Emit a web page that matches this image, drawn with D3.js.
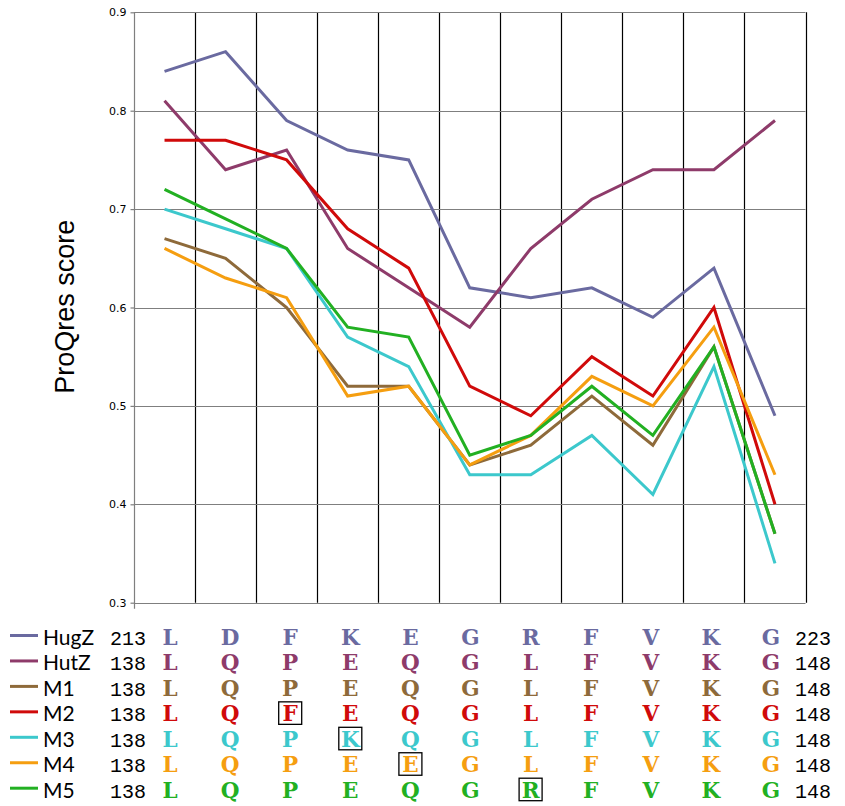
<!DOCTYPE html>
<html>
<head>
<meta charset="utf-8">
<script src="https://cdn.jsdelivr.net/npm/d3@7"></script>
<style>
html,body{margin:0;padding:0;background:#fff;}
svg{display:block;}
</style>
</head>
<body>
<svg id="chart" width="845" height="806"></svg>
<script>
// ---- data ----
const positions = ["0","1","2","3","4","5","6","7","8","9","10"];
const seriesNames = ["HugZ","HutZ","M1","M2","M3","M4","M5"];
const seriesColors = ["#6a6aa0","#8e3b6a","#8e6a3a","#d00a0a","#3cc8cc","#f59e10","#22b022"];
const HugZ = [0.84,0.86,0.79,0.76,0.75,0.62,0.61,0.62,0.59,0.64,0.49];
const HutZ = [0.81,0.74,0.76,0.66,0.62,0.58,0.66,0.71,0.74,0.74,0.79];
const M1   = [0.67,0.65,0.60,0.52,0.52,0.44,0.46,0.51,0.46,0.56,0.37];
const M2   = [0.77,0.77,0.75,0.68,0.64,0.52,0.49,0.55,0.51,0.60,0.40];
const M3   = [0.70,0.68,0.66,0.57,0.54,0.43,0.43,0.47,0.41,0.54,0.34];
const M4   = [0.66,0.63,0.61,0.51,0.52,0.44,0.47,0.53,0.50,0.58,0.43];
const M5   = [0.72,0.69,0.66,0.58,0.57,0.45,0.47,0.52,0.47,0.56,0.37];
const seriesValues = [HugZ,HutZ,M1,M2,M3,M4,M5];
const yTicks = [0.3,0.4,0.5,0.6,0.7,0.8,0.9];
const yTitle = "ProQres score";
// sequence table
const seqStart = ["213","138","138","138","138","138","138"];
const seqEnd   = ["223","148","148","148","148","148","148"];
const seqHugZ = ["L","D","F","K","E","G","R","F","V","K","G"];
const seqHutZ = ["L","Q","P","E","Q","G","L","F","V","K","G"];
const seqM1   = ["L","Q","P","E","Q","G","L","F","V","K","G"];
const seqM2   = ["L","Q","F","E","Q","G","L","F","V","K","G"];
const seqM3   = ["L","Q","P","K","Q","G","L","F","V","K","G"];
const seqM4   = ["L","Q","P","E","E","G","L","F","V","K","G"];
const seqM5   = ["L","Q","P","E","Q","G","R","F","V","K","G"];
const sequences = [seqHugZ,seqHutZ,seqM1,seqM2,seqM3,seqM4,seqM5];
// highlighted mutations: [row, column]
const mutations = [[3,2],[4,3],[5,4],[6,6]];

// ---- layout ----
const svg = d3.select("#chart");
const pLeft = 134, pRight = 805.5, pTop = 12.3, pBottom = 602.7;

const x = d3.scaleBand().domain(positions).range([pLeft, pRight]).paddingInner(0).paddingOuter(0);
const y = d3.scaleLinear().domain([0.3, 0.9]).range([pBottom, pTop]);

// vertical black separators
const g = svg.append("g");
g.selectAll("line.sep").data(positions.slice(1)).enter().append("line")
  .attr("class","sep")
  .attr("x1", d => Math.round(x(d)) + 0.5).attr("x2", d => Math.round(x(d)) + 0.5)
  .attr("y1", pTop).attr("y2", pBottom)
  .attr("stroke", "#000").attr("stroke-width", 1.2);
g.append("line")
  .attr("x1", Math.round(pRight) + 0.5).attr("x2", Math.round(pRight) + 0.5)
  .attr("y1", pTop).attr("y2", pBottom)
  .attr("stroke", "#000").attr("stroke-width", 1.2);

// horizontal gridlines
g.selectAll("line.grid").data(yTicks).enter().append("line")
  .attr("class","grid")
  .attr("x1", pLeft).attr("x2", pRight)
  .attr("y1", d => Math.round(y(d)) + 0.5).attr("y2", d => Math.round(y(d)) + 0.5)
  .attr("stroke", "#7f7f7f").attr("stroke-width", 1.2);

// y axis
const yAxis = d3.axisLeft(y).tickValues(yTicks).tickFormat(d3.format(".1f")).tickSize(4).tickPadding(4);
const ya = svg.append("g").attr("transform", `translate(${pLeft + 0.5},0)`).call(yAxis);
ya.selectAll(".tick line").attr("stroke", "#7f7f7f").attr("stroke-width", 1.2);
ya.selectAll(".tick text").attr("font-family", "DejaVu Sans, sans-serif").attr("font-size", 11).attr("fill", "#000");
ya.select(".domain").attr("stroke", "#7f7f7f").attr("stroke-width", 1.2)
  .attr("d", `M0,${pTop}V${pBottom + 6}`);

// y title
svg.append("text")
  .attr("transform", `translate(74,306.7) rotate(-90)`)
  .attr("text-anchor", "middle")
  .attr("font-family", "Liberation Sans, Arial, sans-serif")
  .attr("font-size", 27)
  .attr("fill", "#000")
  .text(yTitle);

// lines
const line = d3.line()
  .x((d, i) => x(positions[i]) + x.bandwidth() / 2)
  .y(d => y(d));
svg.append("g").selectAll("path").data(seriesValues).enter().append("path")
  .attr("d", d => line(d))
  .attr("fill", "none")
  .attr("stroke", (d, i) => seriesColors[i])
  .attr("stroke-width", 3)
  .attr("stroke-linejoin", "miter");

// ---- sequence table ----
const xs = d3.scalePoint().domain(positions).range([170, 771]);
const rowY = d3.scalePoint().domain(seriesNames).range([645, 797.7]);

const tbl = svg.append("g");
seriesNames.forEach((name, r) => {
  const by = rowY(name);
  tbl.append("line")
    .attr("x1", 10).attr("x2", 38)
    .attr("y1", by - 9.5).attr("y2", by - 9.5)
    .attr("stroke", seriesColors[r]).attr("stroke-width", 3);
  tbl.append("text")
    .attr("x", 43).attr("y", by)
    .attr("font-family", "Lato, Carlito, Calibri, sans-serif")
    .attr("font-size", 21)
    .attr("fill", "#000")
    .text(name);
  tbl.append("text")
    .attr("x", 110).attr("y", by)
    .attr("font-family", "Liberation Mono, Courier New, monospace")
    .attr("font-size", 20)
    .attr("fill", "#000")
    .text(seqStart[r]);
  tbl.append("text")
    .attr("x", 795).attr("y", by)
    .attr("font-family", "Liberation Mono, Courier New, monospace")
    .attr("font-size", 20)
    .attr("fill", "#000")
    .text(seqEnd[r]);
  tbl.selectAll(null).data(sequences[r]).enter().append("text")
    .attr("x", (d, i) => xs(positions[i]))
    .attr("y", by)
    .attr("text-anchor", "middle")
    .attr("font-family", "DejaVu Serif, Liberation Serif, serif")
    .attr("font-weight", "bold")
    .attr("font-size", 21.5)
    .attr("fill", seriesColors[r])
    .text(d => d);
});
tbl.selectAll("rect").data(mutations).enter().append("rect")
  .attr("x", d => xs(positions[d[1]]) - 11.5)
  .attr("y", d => rowY(seriesNames[d[0]]) - 19.5)
  .attr("width", 23).attr("height", 22.5)
  .attr("fill", "none")
  .attr("stroke", "#000")
  .attr("stroke-width", 1.3);
</script>
</body>
</html>
